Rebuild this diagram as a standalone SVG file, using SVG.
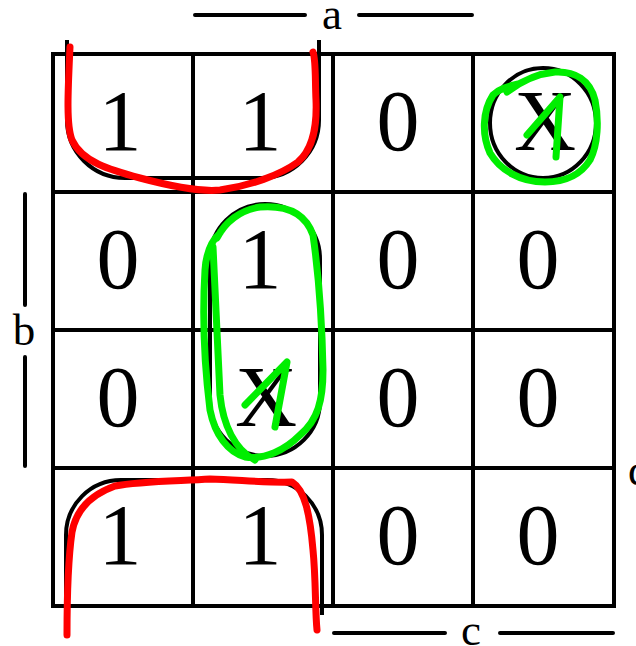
<svg xmlns="http://www.w3.org/2000/svg" width="636" height="646" viewBox="0 0 636 646">
<style>
.g{fill:none;stroke:#000;stroke-width:4}
.lbl{stroke:#000;stroke-width:4;stroke-linecap:round}
.v{font-family:"Liberation Serif","Times New Roman",serif;font-size:86px;text-anchor:middle;fill:#000}
.t{font-family:"Liberation Serif","Times New Roman",serif;font-size:45px;text-anchor:middle;fill:#000}
.bl{fill:none;stroke:#000;stroke-width:4}
.red{fill:none;stroke:#ff0000;stroke-width:7;stroke-linecap:round;stroke-linejoin:round}
.grn{fill:none;stroke:#00ee00;stroke-width:7;stroke-linecap:round;stroke-linejoin:round}
</style>
<rect width="636" height="646" fill="#fff"/>
<g id="grid">
<rect class="g" x="53" y="54" width="561" height="552"/>
<path class="g" d="M193,54V606M333,54V606M473,54V606M53,192H614M53,330H614M53,468H614"/>
</g>
<g id="labels">
<path class="lbl" d="M195,15H305M359,15H472M25,194V305M25,357V466M334,633H445M500,633H613"/>
<text class="t" x="332" y="29">a</text>
<text class="t" x="24" y="345">b</text>
<text class="t" x="471" y="645">c</text>
<text class="t" x="628" y="485" style="text-anchor:start">d</text>
</g>
<g id="cells">
<text class="v" x="120" y="150">1</text><text class="v" x="260" y="150">1</text><text class="v" x="398" y="150">0</text><text class="v" x="545" y="150">X</text>
<text class="v" x="118" y="288">0</text><text class="v" x="260" y="288">1</text><text class="v" x="398" y="288">0</text><text class="v" x="538" y="288">0</text>
<text class="v" x="118" y="426">0</text><text class="v" x="266" y="426">X</text><text class="v" x="398" y="426">0</text><text class="v" x="538" y="426">0</text>
<text class="v" x="120" y="564">1</text><text class="v" x="260" y="564">1</text><text class="v" x="398" y="564">0</text><text class="v" x="538" y="564">0</text>
</g>
<g id="black-loops">
<path class="bl" d="M67,40V120A58,58 0 0 0 125,178H261A58,58 0 0 0 319,120V40"/>
<path class="bl" d="M66,615V535A55,55 0 0 1 121,480H267A55,55 0 0 1 322,535V615"/>
<rect class="bl" x="210" y="204" width="110" height="252" rx="55" ry="55"/>
<ellipse class="bl" cx="543" cy="123" rx="53" ry="55"/>
</g>
<g id="red-loops">
<path class="red" d="M70,47C68,90 66,125 72,140C82,162 110,170 140,178C170,186 200,192 220,190C250,186 280,175 298,162C314,148 317,125 316,100C315,80 316,60 313,52"/>
<path class="red" d="M67,635C67,600 68,560 72,532C76,510 90,495 115,486C140,481 180,481 210,479C240,480 270,483 292,482C305,490 310,515 313,550C316,580 315,610 317,630"/>
</g>
<g id="green-loops">
<path class="grn" d="M507,92C520,82 535,74 555,72C575,71 590,80 595,100C599,120 598,145 590,160C580,176 565,182 545,182C520,182 500,170 490,153C482,135 482,112 493,95C500,88 510,86 518,84"/>
<path class="grn" d="M527,135L560,97L556,157"/>
<path class="grn" d="M217,238C225,222 240,210 260,207C285,205 305,212 313,235C318,270 322,320 323,370C323,400 318,420 300,435C285,450 265,460 245,457C228,452 215,435 210,410C205,370 202,320 205,270C206,255 210,242 220,233"/>
<path class="grn" d="M213,247C215,290 217,340 220,395C223,425 235,450 255,460"/>
<path class="grn" d="M245,405L287,362L275,427"/>
</g>
</svg>
